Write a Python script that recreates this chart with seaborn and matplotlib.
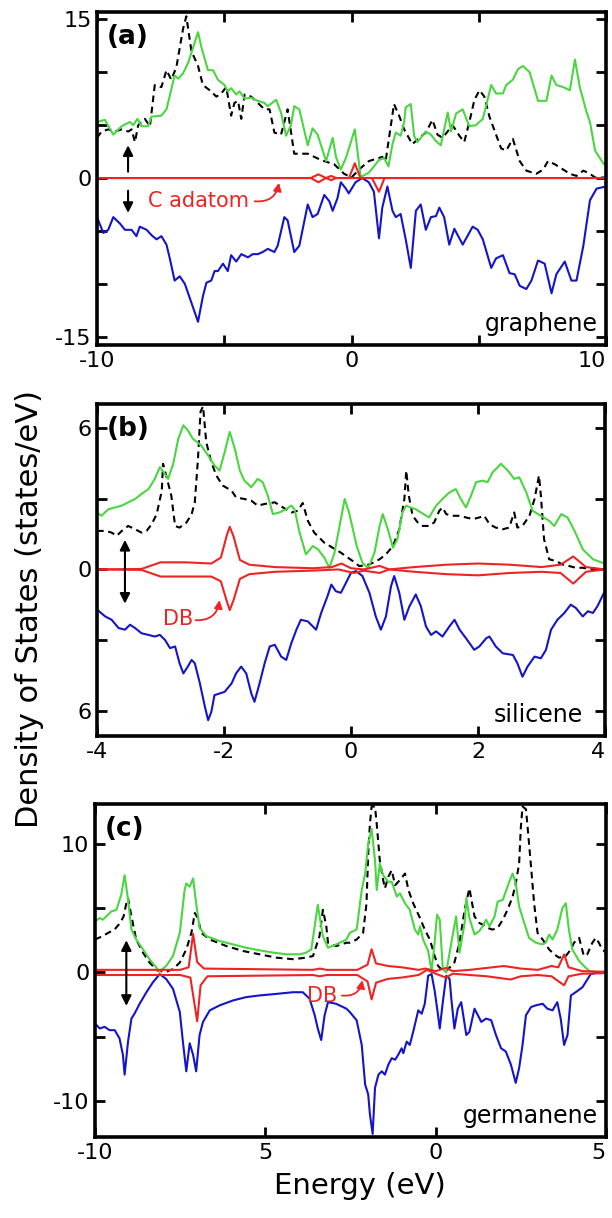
import matplotlib
matplotlib.use('Agg')
import matplotlib.pyplot as plt
import seaborn as sns

# ---------------- data ----------------
# (a) graphene + C adatom, energy -10..10
a_green_x = [-10, -9.69, -9.36, -9.03, -8.71, -8.58, -8.41, -8.25, -7.99, -7.86, -7.47, -7.27, -6.95, -6.81, -6.62, -6.42, -6.23, -6.03, -5.90, -5.64,
             -5.44, -5.25, -4.99, -4.86, -4.73, -4.53, -4.40, -4.20, -3.94, -3.68, -3.42, -3.29, -2.96, -2.77, -2.57, -2.38, -2.25, -2.05, -1.72, -1.53,
             -1.33, -1.00, -0.74, -0.61, -0.42, -0.22, 0.13, 0.36, 0.68, 1.08, 1.28, 1.45, 1.61, 1.74, 1.93, 2.07, 2.13, 2.33, 2.46, 2.59,
             2.92, 3.12, 3.32, 3.51, 3.78, 3.91, 4.11, 4.37, 4.63, 4.89, 5.16, 5.49, 5.68, 5.95, 6.08, 6.34, 6.54, 6.74, 7.0, 7.33,
             7.66, 7.86, 8.05, 8.32, 8.58, 8.78, 8.97, 9.24, 9.37, 9.57, 9.89, 10]
a_green_y = [5.3, 5.5, 4.1, 4.9, 5.3, 5.0, 5.6, 4.9, 4.9, 5.8, 5.9, 6.5, 9.7, 9.4, 9.9, 10.9, 12.3, 13.8, 12.4, 10.2,
             10.2, 9.3, 8.8, 8.2, 8.5, 7.9, 8.2, 7.5, 7.6, 7.3, 7.1, 6.8, 7.4, 6.2, 4.0, 5.0, 6.8, 6.5, 3.1, 4.7,
             4.1, 1.6, 3.8, 2.0, 0.8, 1.9, 4.6, 0.1, 0.5, 1.7, 1.9, 1.1, 3.2, 4.3, 4.0, 5.3, 6.7, 7.0, 4.0, 3.4,
             4.4, 4.1, 3.5, 3.1, 6.2, 4.4, 6.1, 6.5, 4.9, 5.0, 5.6, 8.8, 8.0, 8.0, 8.8, 9.3, 10.3, 10.6, 10.0, 7.3,
             7.3, 9.7, 8.8, 8.6, 8.3, 11.2, 8.6, 6.2, 5.3, 2.6, 1.4, 1.2]
a_black_x = [-10, -9.82, -9.56, -9.30, -9.03, -8.77, -8.64, -8.51, -8.38, -8.12, -7.92, -7.73, -7.47, -7.27, -7.08, -6.88, -6.62, -6.49, -6.29, -6.03,
             -5.84, -5.57, -5.31, -5.12, -4.92, -4.73, -4.60, -4.46, -4.33, -4.20, -3.94, -3.68, -3.42, -3.22, -3.03, -2.77, -2.51, -2.25, -2.05, -1.72,
             -1.20, -0.68, -0.29, 0.0, 0.29, 0.68, 1.21, 1.34, 1.67, 1.87, 2.07, 2.39, 2.66, 2.92, 3.18, 3.38, 3.58, 3.97, 4.24, 4.43,
             4.63, 4.83, 5.03, 5.22, 5.42, 5.68, 5.88, 6.08, 6.34, 6.61, 6.87, 7.26, 7.53, 7.72, 7.99, 8.32, 8.58, 8.84, 9.11, 9.37,
             9.57, 10]
a_black_y = [3.8, 4.4, 4.6, 4.4, 4.6, 4.4, 4.6, 3.4, 5.0, 5.6, 4.9, 8.8, 8.6, 10.2, 9.3, 10.5, 14.1, 15.3, 12.0, 10.6,
             8.8, 8.3, 7.7, 8.0, 8.6, 5.9, 7.1, 7.3, 5.6, 7.9, 7.7, 7.1, 6.5, 6.5, 4.3, 4.1, 6.5, 2.3, 2.3, 2.3,
             1.7, 1.3, 0.4, 0.05, 0.8, 1.6, 2.0, 1.6, 7.0, 5.9, 4.6, 3.2, 3.8, 4.3, 5.5, 4.1, 3.8, 5.0, 4.0, 3.4,
             5.3, 7.4, 8.3, 7.7, 5.8, 4.1, 2.8, 2.6, 3.7, 1.6, 0.7, 0.4, 0.8, 1.6, 1.3, 0.8, 0.4, 0.2, 0.7, 0.4,
             0.05, 0.05]
a_blue_x = [-10, -9.75, -9.56, -9.36, -9.10, -8.90, -8.64, -8.45, -8.32, -8.05, -7.86, -7.66, -7.47, -7.27, -7.14, -6.95, -6.75, -6.55, -6.29, -6.03,
            -5.84, -5.70, -5.51, -5.38, -5.25, -5.05, -4.86, -4.73, -4.53, -4.33, -4.07, -3.88, -3.68, -3.49, -3.29, -3.03, -2.90, -2.64, -2.51, -2.25,
            -2.05, -1.72, -1.53, -1.33, -1.07, -0.87, -0.74, -0.55, -0.42, -0.22, -0.11, 0.16, 0.42, 0.68, 0.88, 1.08, 1.21, 1.41, 1.61, 1.74,
            1.93, 2.13, 2.33, 2.53, 2.72, 2.92, 3.12, 3.32, 3.45, 3.64, 3.84, 4.04, 4.37, 4.76, 4.96, 5.16, 5.49, 5.68, 5.95, 6.21,
            6.41, 6.61, 6.87, 7.07, 7.33, 7.59, 7.86, 8.05, 8.38, 8.64, 8.84, 9.11, 9.37, 9.63, 10]
a_blue_y = [-3.7, -5.2, -4.9, -3.7, -4.3, -4.9, -4.9, -5.5, -4.6, -4.9, -5.4, -5.8, -5.5, -6.3, -7.6, -9.7, -9.3, -10.0, -11.8, -13.6,
            -11.2, -9.9, -9.7, -8.8, -8.8, -8.1, -8.8, -7.3, -7.9, -7.2, -7.5, -7.2, -7.2, -7.0, -6.7, -7.0, -6.4, -3.7, -4.0, -7.0,
            -6.4, -2.5, -3.7, -3.4, -1.6, -2.2, -3.1, -1.9, -0.4, -1.0, -1.45, -0.4, 0.0, -0.4, -1.3, -5.7, -2.8, -0.8, -3.1, -3.7,
            -3.4, -5.8, -8.5, -3.1, -2.5, -4.9, -3.7, -3.6, -2.8, -3.7, -6.3, -4.8, -6.3, -4.6, -4.9, -5.8, -8.5, -7.6, -7.3, -9.0,
            -9.1, -10.2, -10.5, -9.7, -7.8, -8.1, -10.9, -9.1, -7.9, -9.7, -9.7, -6.4, -2.1, -1.0, -0.8]
a_red_up_x = [-10, -1.6, -1.3, -1.0, -0.8, -0.6, -0.1, 0.13, 0.35, 10]
a_red_up_y = [0, 0, 0.35, 0, 0.2, 0, 0, 1.4, 0, 0]
a_red_dn_x = [-10, -1.6, -1.3, -1.0, -0.8, -0.6, 0.8, 1.08, 1.3, 10]
a_red_dn_y = [0, 0, -0.4, 0, -0.2, 0, 0, -1.3, 0, 0]

# (b) silicene + DB, energy -4..4
b_green_x = [-4.0, -3.93, -3.82, -3.72, -3.61, -3.51, -3.40, -3.30, -3.19, -3.09, -3.01, -2.93, -2.88, -2.80, -2.72, -2.64, -2.57, -2.49, -2.36, -2.25,
             -2.15, -2.07, -1.99, -1.91, -1.83, -1.75, -1.68, -1.57, -1.47, -1.39, -1.31, -1.23, -1.13, -1.02, -0.94, -0.89, -0.81, -0.71, -0.60, -0.52,
             -0.42, -0.34, -0.26, -0.18, -0.10, -0.03, 0.09, 0.18, 0.27, 0.37, 0.45, 0.50, 0.58, 0.66, 0.73, 0.81, 0.87, 0.94, 1.02, 1.10,
             1.23, 1.34, 1.44, 1.55, 1.65, 1.73, 1.81, 1.89, 1.97, 2.07, 2.15, 2.23, 2.36, 2.47, 2.57, 2.65, 2.76, 2.86, 2.99, 3.12,
             3.20, 3.31, 3.41, 3.52, 3.65, 3.81, 3.96, 4.0]
b_green_y = [2.41, 2.27, 2.55, 2.62, 2.70, 2.84, 2.98, 3.19, 3.40, 3.83, 4.33, 4.04, 3.83, 4.47, 5.53, 6.10, 5.89, 5.53, 5.25, 4.82,
             4.40, 4.18, 4.96, 5.82, 5.11, 4.18, 3.76, 3.48, 3.83, 3.69, 3.12, 2.34, 2.41, 2.55, 2.70, 2.55, 1.56, 0.64, 0.99, 0.85,
             0.50, 0.07, 0.71, 1.84, 2.98, 2.4, 0.99, 0.28, 0.05, 0.71, 1.84, 2.34, 1.70, 0.92, 1.28, 2.41, 2.70, 2.62, 2.55, 2.41,
             2.20, 2.70, 2.98, 3.26, 3.40, 2.98, 2.62, 3.12, 3.69, 3.76, 3.69, 4.11, 4.47, 4.18, 3.83, 3.90, 3.26, 2.48, 2.27, 2.06,
             1.84, 2.34, 2.20, 1.63, 0.85, 0.43, 0.28, 0.27]
b_black_x = [-4.0, -3.87, -3.77, -3.69, -3.61, -3.51, -3.40, -3.30, -3.22, -3.14, -3.06, -2.98, -2.96, -2.91, -2.83, -2.77, -2.70, -2.59, -2.51, -2.46,
             -2.41, -2.37, -2.33, -2.28, -2.20, -2.12, -2.02, -1.88, -1.81, -1.68, -1.57, -1.47, -1.36, -1.20, -1.07, -0.94, -0.84, -0.76, -0.68, -0.58,
             -0.42, -0.29, -0.16, -0.05, 0.03, 0.13, 0.29, 0.45, 0.55, 0.66, 0.76, 0.84, 0.87, 0.91, 0.97, 1.05, 1.13, 1.23, 1.31, 1.39,
             1.44, 1.50, 1.60, 1.71, 1.81, 1.92, 2.02, 2.10, 2.18, 2.28, 2.39, 2.49, 2.57, 2.62, 2.70, 2.81, 2.89, 2.96, 2.99, 3.04,
             3.12, 3.23, 3.33, 3.44, 3.54, 3.65, 3.81, 4.0]
b_black_y = [1.63, 1.63, 1.56, 1.42, 1.63, 1.84, 1.70, 1.56, 1.63, 1.91, 2.34, 3.33, 4.47, 3.97, 3.12, 1.84, 1.77, 1.99, 2.34, 2.84,
             4.68, 6.67, 6.9, 5.39, 4.54, 3.97, 3.55, 3.33, 3.05, 2.98, 2.91, 2.70, 2.77, 2.84, 2.62, 2.41, 2.48, 2.81, 2.06, 1.56,
             1.13, 0.92, 0.71, 0.50, 0.35, 0.14, 0.21, 0.43, 0.64, 0.99, 1.70, 2.98, 4.18, 3.12, 2.27, 1.99, 1.84, 1.84, 1.99, 2.48,
             2.62, 2.34, 2.27, 2.27, 2.20, 2.13, 2.20, 2.27, 1.91, 1.77, 1.70, 1.77, 2.41, 1.77, 1.84, 2.27, 2.98, 3.97, 3.12, 1.28,
             0.43, 0.35, 0.21, 0.14, 0.07, 0.07, 0.0, 0.0]
b_blue_x = [-4.0, -3.87, -3.77, -3.66, -3.56, -3.48, -3.40, -3.30, -3.19, -3.09, -3.01, -2.93, -2.85, -2.77, -2.70, -2.64, -2.57, -2.51, -2.46, -2.38,
            -2.30, -2.25, -2.20, -2.15, -2.07, -1.99, -1.88, -1.81, -1.73, -1.65, -1.57, -1.52, -1.44, -1.36, -1.28, -1.20, -1.10, -1.02, -0.94, -0.86,
            -0.79, -0.68, -0.55, -0.47, -0.37, -0.31, -0.24, -0.16, -0.08, 0.0, 0.08, 0.18, 0.29, 0.39, 0.47, 0.55, 0.63, 0.68, 0.76, 0.84,
            0.92, 1.02, 1.10, 1.18, 1.26, 1.34, 1.44, 1.55, 1.63, 1.71, 1.81, 1.94, 2.02, 2.13, 2.18, 2.28, 2.39, 2.55, 2.62, 2.70,
            2.78, 2.89, 2.99, 3.07, 3.15, 3.25, 3.36, 3.46, 3.54, 3.65, 3.73, 3.81, 3.88, 4.0]
b_blue_y = [-1.70, -1.99, -2.13, -2.48, -2.55, -2.34, -2.48, -2.70, -2.77, -2.84, -2.77, -2.98, -3.33, -3.26, -3.97, -4.40, -4.11, -3.83, -3.97, -4.82,
            -5.82, -6.38, -6.03, -5.32, -5.25, -5.18, -4.82, -4.40, -4.11, -4.40, -5.25, -5.60, -4.82, -3.97, -3.26, -3.19, -3.69, -3.83, -3.12, -2.55,
            -2.13, -2.20, -2.55, -1.84, -1.13, -0.64, -0.92, -0.99, -0.57, -0.14, -0.07, -0.28, -0.99, -1.99, -2.55, -1.99, -0.71, -0.28, -0.99, -2.13,
            -1.56, -1.06, -1.56, -2.41, -2.77, -2.62, -2.84, -2.41, -2.13, -2.55, -2.91, -3.40, -3.26, -2.91, -2.84, -3.26, -3.55, -3.62, -3.97, -4.54,
            -4.11, -3.69, -3.76, -3.40, -2.55, -2.13, -1.84, -1.49, -1.63, -1.99, -1.77, -1.84, -1.56, -0.9]
b_red_up_x = [-4, -3.3, -3.0, -2.6, -2.2, -2.05, -1.95, -1.91, -1.85, -1.75, -1.6, -1.2, -0.6, -0.3, -0.15, 0.0, 0.2, 0.45, 0.6, 1.0,
              1.5, 2.0, 2.5, 3.0, 3.3, 3.5, 3.7, 4.0]
b_red_up_y = [0, 0.02, 0.3, 0.3, 0.25, 0.5, 1.5, 1.8, 1.4, 0.4, 0.2, 0.1, 0.05, 0.1, 0.25, 0.05, 0.0, 0.15, 0.0, 0.1,
              0.2, 0.25, 0.2, 0.1, 0.2, 0.55, 0.1, 0.0]
b_red_dn_x = [-4, -3.3, -3.0, -2.6, -2.2, -2.05, -1.95, -1.91, -1.85, -1.75, -1.6, -1.2, -0.6, -0.2, 0.05, 0.2, 0.45, 0.6, 1.0, 1.5,
              2.0, 2.5, 3.0, 3.3, 3.5, 3.7, 4.0]
b_red_dn_y = [0, -0.02, -0.3, -0.3, -0.3, -0.5, -1.4, -1.72, -1.3, -0.4, -0.2, -0.1, -0.05, 0.0, -0.15, -0.05, -0.15, 0.0, -0.1, -0.2,
              -0.25, -0.15, -0.1, -0.15, -0.6, -0.1, 0.0]

# (c) germanene + DB, energy -10..5
c_green_x = [-10.0, -9.86, -9.77, -9.67, -9.52, -9.37, -9.23, -9.13, -9.03, -8.93, -8.79, -8.59, -8.40, -8.20, -8.12, -7.91, -7.71, -7.51, -7.37, -7.32,
             -7.22, -7.12, -7.03, -6.93, -6.73, -6.34, -5.95, -5.56, -5.17, -4.77, -4.38, -3.99, -3.80, -3.65, -3.46, -3.31, -3.16, -2.92, -2.62, -2.52,
             -2.32, -2.17, -2.07, -1.98, -1.88, -1.78, -1.73, -1.64, -1.54, -1.39, -1.29, -1.14, -1.05, -0.90, -0.76, -0.61, -0.51, -0.46, -0.37, -0.22,
             -0.12, -0.03, 0.04, 0.12, 0.21, 0.31, 0.46, 0.60, 0.70, 0.85, 0.90, 0.99, 1.14, 1.28, 1.38, 1.48, 1.58, 1.73, 1.82, 1.97,
             2.16, 2.26, 2.35, 2.45, 2.60, 2.74, 2.94, 3.14, 3.23, 3.33, 3.43, 3.57, 3.72, 3.82, 3.91, 4.01, 4.21, 4.40, 4.50, 4.70,
             5.0]
c_green_y = [3.97, 4.23, 4.10, 4.36, 4.74, 4.87, 6.03, 7.56, 5.64, 3.33, 2.56, 1.79, 1.03, 0.38, 0.05, 0.51, 1.28, 3.08, 6.41, 6.92,
             6.67, 7.31, 5.38, 3.46, 2.82, 2.44, 2.18, 1.92, 1.72, 1.54, 1.41, 1.41, 1.54, 1.79, 5.26, 2.82, 1.92, 2.18, 2.56, 3.08,
             3.33, 6.41, 7.69, 10.0, 11.15, 8.72, 6.41, 8.46, 7.56, 7.05, 7.05, 5.90, 6.15, 5.38, 4.87, 3.33, 2.95, 3.59, 2.56, 1.67,
             0.13, 2.31, 4.49, 4.10, 0.26, 0.0, 2.31, 4.36, 1.54, 3.85, 5.77, 4.23, 2.95, 3.21, 3.59, 4.10, 3.59, 4.36, 5.51, 5.64,
             7.05, 7.69, 6.92, 5.13, 3.85, 2.69, 2.31, 2.18, 2.31, 2.95, 2.56, 3.33, 5.00, 5.38, 3.33, 1.79, 0.90, 0.38, 0.13, 0.0,
             0.0]
c_black_x = [-10, -9.78, -9.61, -9.43, -9.26, -9.16, -9.08, -9.03, -8.93, -8.79, -8.59, -8.40, -8.16, -7.91, -7.71, -7.51, -7.32, -7.17, -7.07, -6.98,
             -6.88, -6.63, -6.14, -5.66, -5.17, -4.68, -4.19, -3.80, -3.60, -3.41, -3.31, -3.21, -3.16, -2.92, -2.62, -2.52, -2.32, -2.13, -2.03, -1.98,
             -1.93, -1.88, -1.78, -1.73, -1.64, -1.54, -1.49, -1.39, -1.29, -1.19, -1.05, -0.90, -0.80, -0.66, -0.46, -0.32, -0.17, -0.03, 0.07, 0.21,
             0.31, 0.41, 0.55, 0.70, 0.85, 0.99, 1.14, 1.28, 1.38, 1.53, 1.67, 1.82, 1.97, 2.11, 2.26, 2.35, 2.45, 2.50, 2.55, 2.65,
             2.70, 2.80, 2.89, 2.99, 3.14, 3.33, 3.48, 3.62, 3.82, 3.97, 4.06, 4.21, 4.35, 4.45, 4.60, 4.70, 4.79, 4.89, 5.0]
c_black_y = [2.56, 2.82, 3.08, 3.33, 3.85, 4.36, 5.38, 5.77, 4.36, 2.56, 1.54, 0.77, 0.13, 0.05, 0.26, 0.77, 1.79, 3.08, 4.62, 4.23,
             3.08, 2.56, 2.05, 1.67, 1.41, 1.15, 1.03, 1.15, 1.28, 2.82, 4.87, 3.59, 2.31, 2.05, 2.31, 2.31, 2.56, 3.08, 5.38, 9.23,
             11.54, 12.9, 12.9, 11.54, 8.72, 7.18, 6.54, 7.44, 7.95, 6.79, 7.18, 7.69, 6.41, 5.38, 4.23, 3.33, 2.56, 1.28, 0.51, 0.13,
             0.13, 0.38, 0.77, 2.31, 4.87, 6.54, 4.36, 3.85, 3.72, 3.46, 3.33, 3.46, 4.10, 4.87, 5.90, 6.92, 8.46, 11.28, 12.9, 12.7,
             11.28, 8.21, 5.38, 3.08, 2.56, 1.79, 1.41, 1.15, 1.28, 1.79, 2.31, 2.69, 1.28, 1.41, 2.31, 2.69, 2.31, 1.79, 1.54]
c_blue_x = [-10, -9.86, -9.72, -9.57, -9.42, -9.28, -9.18, -9.13, -9.03, -8.93, -8.84, -8.69, -8.49, -8.30, -8.10, -7.91, -7.71, -7.51, -7.42, -7.32,
            -7.22, -7.12, -7.03, -6.93, -6.83, -6.63, -6.34, -5.95, -5.56, -5.17, -4.68, -4.19, -3.90, -3.70, -3.55, -3.46, -3.36, -3.26, -3.16, -2.92,
            -2.62, -2.52, -2.32, -2.17, -2.07, -1.98, -1.93, -1.85, -1.78, -1.68, -1.58, -1.49, -1.39, -1.29, -1.19, -1.10, -1.00, -0.95, -0.85, -0.76,
            -0.66, -0.51, -0.41, -0.32, -0.22, -0.12, -0.03, 0.07, 0.12, 0.21, 0.31, 0.41, 0.46, 0.55, 0.65, 0.75, 0.90, 0.99, 1.14, 1.24,
            1.34, 1.48, 1.63, 1.77, 1.92, 2.06, 2.21, 2.35, 2.45, 2.55, 2.65, 2.80, 2.94, 3.14, 3.28, 3.43, 3.57, 3.67, 3.77, 3.87,
            3.97, 4.11, 4.31, 4.40, 4.55, 4.70, 5.0]
c_blue_y = [-3.97, -4.36, -4.23, -4.49, -4.49, -5.13, -6.41, -7.95, -5.38, -3.59, -3.21, -2.44, -1.54, -0.77, -0.13, -0.51, -1.28, -3.08, -5.38, -7.69,
            -5.51, -6.41, -7.69, -4.87, -3.85, -2.95, -2.56, -2.18, -1.92, -1.79, -1.67, -1.54, -1.54, -2.05, -3.33, -4.36, -5.26, -3.33, -2.31, -2.44,
            -2.82, -3.08, -3.72, -5.64, -8.72, -9.49, -11.03, -12.56, -8.97, -7.95, -7.69, -7.95, -7.18, -6.67, -6.79, -6.41, -5.90, -6.28, -5.38, -5.64,
            -4.62, -2.95, -3.21, -2.44, -0.26, -0.13, -1.41, -3.33, -4.36, -2.31, -0.26, -0.51, -2.05, -4.36, -2.82, -2.31, -4.87, -4.62, -2.82, -3.33,
            -3.85, -3.59, -3.72, -4.87, -5.90, -6.15, -7.18, -8.59, -7.44, -5.64, -3.33, -2.69, -2.56, -2.44, -2.82, -2.95, -2.31, -3.59, -5.64, -4.87,
            -1.79, -1.54, -1.15, -0.77, -0.13, -0.05, 0.0]
c_red_up_x = [-10, -7.5, -7.25, -7.12, -7.0, -6.8, -3.6, -3.4, -3.2, -2.3, -2.0, -1.88, -1.75, -1.4, -1.0, -0.5, -0.3, 0.0, 0.3, 0.5,
              1.0, 1.5, 2.0, 2.5, 3.0, 3.4, 3.6, 3.77, 3.9, 4.3, 5.0]
c_red_up_y = [0.2, 0.2, 0.4, 3.0, 0.8, 0.3, 0.2, 0.3, 0.2, 0.2, 0.6, 1.8, 0.7, 0.5, 0.4, 0.2, 0.3, 0.1, 0.35, 0.1,
              0.2, 0.35, 0.5, 0.3, 0.2, 0.5, 0.4, 1.4, 0.4, 0.1, 0.05]
c_red_dn_x = [-10, -7.5, -7.2, -7.0, -6.9, -6.7, -3.6, -3.4, -3.2, -2.3, -2.0, -1.88, -1.75, -1.4, -1.0, -0.5, -0.25, 0.0, 0.3, 0.5,
              1.0, 1.5, 2.2, 2.5, 3.0, 3.4, 3.77, 3.9, 4.3, 5.0]
c_red_dn_y = [-0.2, -0.2, -0.4, -3.8, -1.0, -0.3, -0.2, -0.3, -0.2, -0.2, -0.7, -2.1, -0.8, -0.5, -0.4, -0.2, 0.2, -0.1, -0.4, -0.1,
              -0.2, -0.3, -0.55, -0.3, -0.2, -0.3, -1.0, -0.3, -0.1, -0.05]

materials = ['graphene', 'silicene', 'germanene']
panel_tags = ['(a)', '(b)', '(c)']

# ---------------- style ----------------
sns.set_style('ticks')
plt.rcParams['font.family'] = ['DejaVu Sans']
# plain black text/frames like the original figure
for key in ['text.color', 'axes.edgecolor', 'axes.labelcolor', 'xtick.color', 'ytick.color']:
    plt.rcParams[key] = 'black'

GREEN = '#4ad640'
BLUE = '#1414c8'
RED = '#ee2424'
LW = 1.5

fig = plt.figure(figsize=(6.12, 12.18), dpi=100)
# axes boxes in figure fraction (left, bottom, width, height)
ax_a = fig.add_axes([0.1585, 0.7167, 0.8317, 0.2734])
ax_b = fig.add_axes([0.1585, 0.3957, 0.8301, 0.2726])
ax_c = fig.add_axes([0.1552, 0.0665, 0.8350, 0.2734])


def draw_panel(ax, gx, gy, kx, ky, bx, by, rux, ruy, rdx, rdy):
    sns.lineplot(x=kx, y=ky, ax=ax, color='black', lw=LW, linestyle=(0, (3.2, 2.2)),
                 estimator=None, sort=False)
    sns.lineplot(x=gx, y=gy, ax=ax, color=GREEN, lw=LW, estimator=None, sort=False)
    sns.lineplot(x=bx, y=by, ax=ax, color=BLUE, lw=LW, estimator=None, sort=False)
    sns.lineplot(x=rux, y=ruy, ax=ax, color=RED, lw=LW, estimator=None, sort=False)
    sns.lineplot(x=rdx, y=rdy, ax=ax, color=RED, lw=LW, estimator=None, sort=False)
    for sp in ax.spines.values():
        sp.set_linewidth(2.6)
        sp.set_color('black')
    ax.tick_params(direction='in', length=7, width=2, top=True, right=True,
                   labelsize=16, pad=4, colors='black')
    ax.set_xlabel('')
    ax.set_ylabel('')


def arrow(ax, tail, head, color='black', rad=0.0, lw=1.5, style='-|>', ms=15):
    ax.annotate('', xy=head, xytext=tail,
                arrowprops=dict(arrowstyle=style, color=color, lw=lw,
                                mutation_scale=ms, shrinkA=0, shrinkB=0,
                                connectionstyle='arc3,rad=%s' % rad))


# (a)
draw_panel(ax_a, a_green_x, a_green_y, a_black_x, a_black_y, a_blue_x, a_blue_y,
           a_red_up_x, a_red_up_y, a_red_dn_x, a_red_dn_y)
ax_a.set_xlim(-10, 10)
ax_a.set_ylim(-15.8, 15.7)
ax_a.set_xticks([-10, -5, 0, 5, 10])
ax_a.set_xticklabels(['-10', '', '0', '', '10'])
ax_a.set_yticks([-15, -10, -5, 0, 5, 10, 15])
ax_a.set_yticklabels(['-15', '', '', '0', '', '', '15'])
arrow(ax_a, (-8.78, 0.6), (-8.78, 3.1))
arrow(ax_a, (-8.78, -1.2), (-8.78, -3.3))
ax_a.text(-8.0, -2.2, 'C adatom', color=RED, fontsize=15, va='center', ha='left')
arrow(ax_a, (-3.8, -2.2), (-2.85, -0.45), color=RED, rad=0.45, lw=1.3, ms=12)

# (b)
draw_panel(ax_b, b_green_x, b_green_y, b_black_x, b_black_y, b_blue_x, b_blue_y,
           b_red_up_x, b_red_up_y, b_red_dn_x, b_red_dn_y)
ax_b.set_xlim(-4, 4)
ax_b.set_ylim(-7.05, 7.0)
ax_b.set_xticks([-4, -2, 0, 2, 4])
ax_b.set_xticklabels(['-4', '-2', '0', '2', '4'])
ax_b.set_yticks([-6, -3, 0, 3, 6])
ax_b.set_yticklabels(['6', '', '0', '', '6'])
arrow(ax_b, (-3.56, 0.0), (-3.56, 1.25))
arrow(ax_b, (-3.56, 0.0), (-3.56, -1.45))
ax_b.text(-2.72, -2.1, 'DB', color=RED, fontsize=15, va='center', ha='center')
arrow(ax_b, (-2.45, -2.15), (-2.07, -1.3), color=RED, rad=0.45, lw=1.3, ms=12)

# (c)
draw_panel(ax_c, c_green_x, c_green_y, c_black_x, c_black_y, c_blue_x, c_blue_y,
           c_red_up_x, c_red_up_y, c_red_dn_x, c_red_dn_y)
ax_c.set_xlim(-10, 5)
ax_c.set_ylim(-12.8, 13.1)
ax_c.set_xticks([-10, -5, 0, 5])
ax_c.set_xticklabels(['-10', '5', '0', '5'])
ax_c.set_yticks([-10, -5, 0, 5, 10])
ax_c.set_yticklabels(['-10', '', '0', '', '10'])
arrow(ax_c, (-9.08, 0.0), (-9.08, 2.5))
arrow(ax_c, (-9.08, 0.0), (-9.08, -2.6))
ax_c.text(-3.34, -1.85, 'DB', color=RED, fontsize=15, va='center', ha='center')
arrow(ax_c, (-2.75, -1.8), (-2.15, -0.6), color=RED, rad=0.45, lw=1.3, ms=12)

# last x tick label sits flush with the right spine
for ax in (ax_a, ax_b, ax_c):
    ax.get_xticklabels()[-1].set_horizontalalignment('right')

# panel tags and material names
name_x = [0.984, 0.957, 0.984]
for ax, tag, name, nx in zip((ax_a, ax_b, ax_c), panel_tags, materials, name_x):
    ax.text(0.02, 0.965, tag, transform=ax.transAxes, fontsize=19,
            fontweight='bold', ha='left', va='top', color='black')
    ax.text(nx, 0.043, name, transform=ax.transAxes, fontsize=17,
            ha='right', va='baseline', color='black')

fig.text(0.049, 0.5, 'Density of States (states/eV)', rotation=90,
         fontsize=22, ha='center', va='center', color='black')
fig.text(0.588, 0.026, 'Energy (eV)', fontsize=21, ha='center', va='center',
         color='black')

fig.savefig('out.png', dpi=100)
